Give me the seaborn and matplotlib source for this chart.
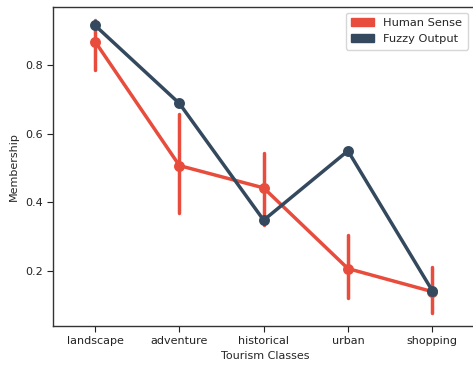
import numpy as np
import pandas as pd
import seaborn as sns
import matplotlib
matplotlib.use("Agg")
import matplotlib.pyplot as plt
from matplotlib.patches import Patch

classes = ["landscape", "adventure", "historical", "urban", "shopping"]

# Human Sense: central value plus the low/high ends of its spread
human_mid = [0.868, 0.507, 0.442, 0.207, 0.140]
human_low = [0.785, 0.370, 0.335, 0.122, 0.077]
human_high = [0.930, 0.658, 0.545, 0.305, 0.212]

# Fuzzy Output: a single value per class
fuzzy_val = [0.915, 0.688, 0.348, 0.550, 0.143]

series_names = ["Human Sense", "Fuzzy Output"]
colors = ["#e74c3c", "#34495e"]

rows = []
for c, lo, m, hi in zip(classes, human_low, human_mid, human_high):
    for v in (lo, m, hi):
        rows.append({"Tourism Classes": c, "Membership": v, "source": series_names[0]})
for c, v in zip(classes, fuzzy_val):
    rows.append({"Tourism Classes": c, "Membership": v, "source": series_names[1]})
df = pd.DataFrame(rows)

sns.set_style("white")
plt.rcParams["font.family"] = ["DejaVu Sans"]

fig = plt.figure(figsize=(4.73, 3.65), dpi=100)
ax = fig.add_axes([0.112, 0.107, 0.898, 0.874])

sns.pointplot(
    data=df, x="Tourism Classes", y="Membership", hue="source",
    order=classes, hue_order=series_names, palette=colors,
    estimator="median", errorbar=("pi", 100),
    linewidth=2.5, markersize=6.0, err_kws={"linewidth": 2.5},
    ax=ax, legend=False,
)

ax.set_xlim(-0.5, 4.54)
ax.set_ylim(0.04, 0.969)
ax.set_yticks([0.2, 0.4, 0.6, 0.8])
ax.tick_params(axis="both", labelsize=8, length=4, width=0.8, direction="out",
               bottom=True, left=True, colors="#222222")
ax.set_xlabel("Tourism Classes", fontsize=8, labelpad=3)
ax.set_ylabel("Membership", fontsize=8)
for s in ax.spines.values():
    s.set_color("#333333")
    s.set_linewidth(1.0)

handles = [Patch(facecolor=c, edgecolor=c) for c in colors]
ax.legend(handles, series_names, loc="upper right", fontsize=8.2,
          frameon=True, handlelength=2.0, borderpad=0.5,
          bbox_to_anchor=(0.99, 1.0))

fig.savefig("out.png", dpi=100)
